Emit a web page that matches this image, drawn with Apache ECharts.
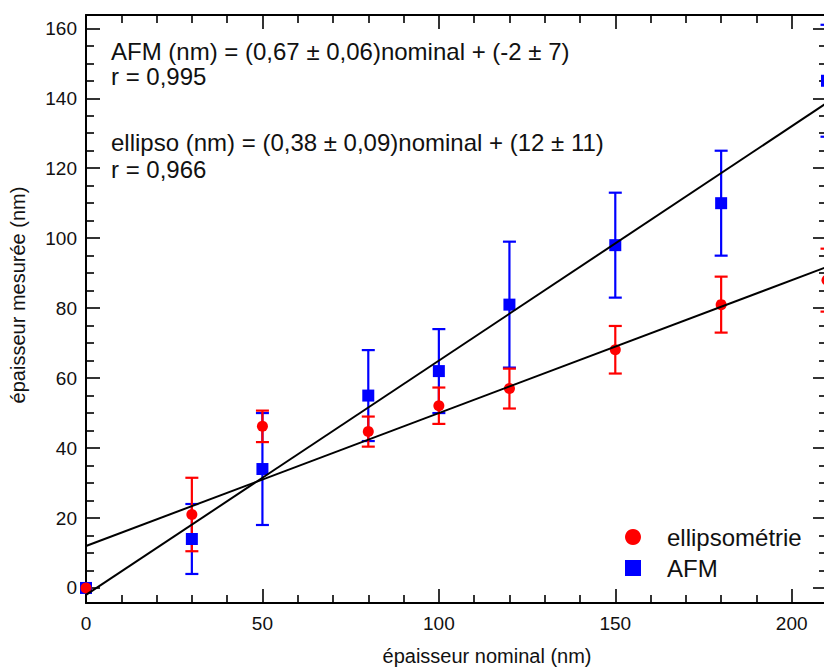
<!DOCTYPE html>
<html>
<head>
<meta charset="utf-8">
<script src="https://cdn.jsdelivr.net/npm/echarts@6/dist/echarts.min.js"></script>
<style>
  html, body { margin: 0; padding: 0; background: #fff; overflow: hidden; }
  #chart { width: 850px; height: 667px; }
</style>
</head>
<body>
<div id="chart"></div>
<script>
// Nominal thickness (nm) of each sample
const nominal = [0, 30, 50, 80, 100, 120, 150, 180, 210];

// Ellipsometry measurements and their uncertainties (nm)
const ellipso = [0, 21, 46.2, 44.7, 52.1, 57, 68.1, 81, 88];
const ellipsoErr = [0, 10.5, 4.5, 4.3, 5.2, 5.7, 6.8, 8, 9];

// AFM measurements and their uncertainties (nm)
const afm = [0, 14, 34, 55, 62, 81, 98, 110, 145];
const afmErr = [0, 10, 16, 13, 12, 18, 15, 15, 16];

// Linear fits: measured = slope * nominal + intercept
const afmFit = { slope: 0.67, intercept: -2 };
const ellipsoFit = { slope: 0.38, intercept: 12 };

// Axis ranges and ticks
const xRange = [0, 210];
const yRange = [-4.3, 163.8];
const xMajor = [0, 50, 100, 150, 200];
const xMinor = [10, 20, 30, 40, 60, 70, 80, 90, 110, 120, 130, 140, 160, 170, 180, 190];
const yMajor = [0, 20, 40, 60, 80, 100, 120, 140, 160];
const yMinor = [5, 10, 15, 25, 30, 35, 45, 50, 55, 65, 70, 75, 85, 90, 95, 105, 110, 115, 125, 130, 135, 145, 150, 155];

const FONT = '"Liberation Sans", Arial, sans-serif';
const RED = '#ff0000';
const BLUE = '#0000ff';
const INK = '#111';

function pairs(xs, ys) { return xs.map((x, i) => [x, ys[i]]); }
function errData(xs, ys, es) { return xs.map((x, i) => [x, ys[i] - es[i], ys[i] + es[i]]); }
function fitLine(fit) {
  return xRange.map(x => [x, fit.slope * x + fit.intercept]);
}

function errorBarRenderer(color) {
  return function (params, api) {
    const x = api.value(0);
    const lo = api.coord([x, api.value(1)]);
    const hi = api.coord([x, api.value(2)]);
    if (Math.abs(hi[1] - lo[1]) < 1) return null;
    const half = 6.5;
    const style = { stroke: color, lineWidth: 2.2 };
    return {
      type: 'group',
      children: [
        { type: 'line', shape: { x1: lo[0], y1: lo[1], x2: hi[0], y2: hi[1] }, style },
        { type: 'line', shape: { x1: lo[0] - half, y1: lo[1], x2: lo[0] + half, y2: lo[1] }, style },
        { type: 'line', shape: { x1: hi[0] - half, y1: hi[1], x2: hi[0] + half, y2: hi[1] }, style }
      ]
    };
  };
}

function xAxisDef(position, ticks, length, withLine, withLabels) {
  return {
    type: 'value', position, min: xRange[0], max: xRange[1],
    splitLine: { show: false },
    axisLine: { show: withLine, onZero: false, lineStyle: { color: '#000', width: 2 } },
    axisTick: { show: true, inside: true, length, customValues: ticks, lineStyle: { color: '#000', width: 1.6 } },
    axisLabel: withLabels
      ? { show: true, customValues: ticks, margin: 11, fontFamily: FONT, fontSize: 19, color: INK }
      : { show: false }
  };
}

function yAxisDef(position, ticks, length, withLine, withLabels) {
  return {
    type: 'value', position, min: yRange[0], max: yRange[1],
    splitLine: { show: false },
    axisLine: { show: withLine, onZero: false, lineStyle: { color: '#000', width: 2 } },
    axisTick: { show: true, inside: true, length, customValues: ticks, lineStyle: { color: '#000', width: 1.6 } },
    axisLabel: withLabels
      ? { show: true, customValues: ticks, margin: 9, fontFamily: FONT, fontSize: 19, color: INK }
      : { show: false }
  };
}

const chart = echarts.init(document.getElementById('chart'), null, { renderer: 'svg' });

chart.setOption({
  animation: false,
  backgroundColor: '#fff',
  grid: { left: 86, top: 15, width: 741, height: 588, containLabel: false },
  xAxis: [
    xAxisDef('bottom', xMajor, 14, true, true),
    xAxisDef('bottom', xMinor, 8, false, false),
    xAxisDef('top', xMajor, 14, true, false),
    xAxisDef('top', xMinor, 8, false, false)
  ],
  yAxis: [
    yAxisDef('left', yMajor, 14, true, true),
    yAxisDef('left', yMinor, 8, false, false),
    yAxisDef('right', yMajor, 14, true, false),
    yAxisDef('right', yMinor, 8, false, false)
  ],
  legend: {
    orient: 'vertical',
    left: 620,
    top: 520,
    itemWidth: 16,
    itemHeight: 16,
    itemGap: 7,
    data: [
      { name: 'ellipsométrie', icon: 'circle' },
      { name: 'AFM', icon: 'rect' }
    ],
    textStyle: { fontFamily: FONT, fontSize: 24, color: INK, padding: [0, 0, 0, 21] }
  },
  graphic: [
    { type: 'text', left: 111, top: 39, style: { text: 'AFM (nm) = (0,67 ± 0,06)nominal + (-2 ± 7)', font: '24px ' + FONT, fill: INK } },
    { type: 'text', left: 111, top: 64, style: { text: 'r = 0,995', font: '24px ' + FONT, fill: INK } },
    { type: 'text', left: 111, top: 130, style: { text: 'ellipso (nm) = (0,38 ± 0,09)nominal + (12 ± 11)', font: '24px ' + FONT, fill: INK } },
    { type: 'text', left: 111, top: 157, style: { text: 'r = 0,966', font: '24px ' + FONT, fill: INK } },
    { type: 'text', x: 487, y: 656, style: { text: 'épaisseur nominal (nm)', font: '20px ' + FONT, fill: INK, align: 'center', verticalAlign: 'middle' } },
    { type: 'text', x: 18, y: 295, rotation: Math.PI / 2, style: { text: 'épaisseur mesurée (nm)', font: '20px ' + FONT, fill: INK, align: 'center', verticalAlign: 'middle' } }
  ],
  series: [
    {
      name: 'AFM err', type: 'custom', xAxisIndex: 0, yAxisIndex: 0, z: 2,
      renderItem: errorBarRenderer(BLUE),
      encode: { x: 0, y: [1, 2] },
      data: errData(nominal, afm, afmErr), clip: false
    },
    {
      name: 'ellipso err', type: 'custom', xAxisIndex: 0, yAxisIndex: 0, z: 3,
      renderItem: errorBarRenderer(RED),
      encode: { x: 0, y: [1, 2] },
      data: errData(nominal, ellipso, ellipsoErr), clip: false
    },
    {
      name: 'AFM', type: 'scatter', xAxisIndex: 0, yAxisIndex: 0, z: 4,
      symbol: 'rect', symbolSize: 12, itemStyle: { color: BLUE, opacity: 1 },
      data: pairs(nominal, afm), clip: false
    },
    {
      name: 'ellipsométrie', type: 'scatter', xAxisIndex: 0, yAxisIndex: 0, z: 5,
      symbol: 'circle', symbolSize: 11, itemStyle: { color: RED, opacity: 1 },
      data: pairs(nominal, ellipso), clip: false
    },
    {
      name: 'AFM fit', type: 'line', xAxisIndex: 0, yAxisIndex: 0, z: 6,
      showSymbol: false, symbol: 'none', silent: true,
      lineStyle: { color: '#000', width: 2 },
      data: fitLine(afmFit)
    },
    {
      name: 'ellipso fit', type: 'line', xAxisIndex: 0, yAxisIndex: 0, z: 6,
      showSymbol: false, symbol: 'none', silent: true,
      lineStyle: { color: '#000', width: 2 },
      data: fitLine(ellipsoFit)
    }
  ]
});
</script>
</body>
</html>
